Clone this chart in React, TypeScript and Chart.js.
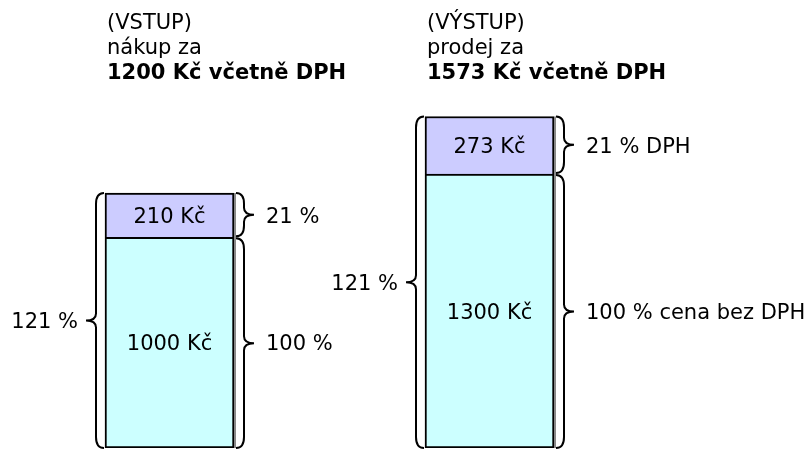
import React, { useEffect, useRef } from "react";
import { Chart, registerables } from "chart.js";

Chart.register(...registerables);

const categories = ["VSTUP", "VÝSTUP"];
const basePrice = [1000, 1300];
const vat = [210, 273];
const titleLine1 = ["(VSTUP)", "(VÝSTUP)"];
const titleLine2 = ["nákup za", "prodej za"];
const titleLine3 = ["1200 Kč včetně DPH", "1573 Kč včetně DPH"];
const totalLabels = ["121 %", "121 %"];
const vatLabels = ["21 %", "21 % DPH"];
const baseLabels = ["100 %", "100 % cena bez DPH"];

const FONT = '"DejaVu Sans", sans-serif';
const FS = 21;

function brace(
  ctx: CanvasRenderingContext2D,
  xEnd: number,
  dir: number,
  y1: number,
  y2: number
) {
  const xSpine = xEnd + dir * 8;
  const xTip = xEnd + dir * 18;
  const ym = (y1 + y2) / 2;
  const r = Math.min(11, (y2 - y1) / 4);
  const rt = Math.min(7, (y2 - y1) / 5);
  ctx.beginPath();
  ctx.moveTo(xEnd, y1);
  ctx.quadraticCurveTo(xSpine, y1, xSpine, y1 + r);
  ctx.lineTo(xSpine, ym - rt);
  ctx.quadraticCurveTo(xSpine, ym, xTip, ym);
  ctx.quadraticCurveTo(xSpine, ym, xSpine, ym + rt);
  ctx.lineTo(xSpine, y2 - r);
  ctx.quadraticCurveTo(xSpine, y2, xEnd, y2);
  ctx.stroke();
}

const annotatePlugin = {
  id: "annotate",
  afterDatasetsDraw(chart: any) {
    const ctx: CanvasRenderingContext2D = chart.ctx;
    const m0 = chart.getDatasetMeta(0).data;
    const m1 = chart.getDatasetMeta(1).data;
    ctx.save();
    ctx.fillStyle = "#000";
    ctx.strokeStyle = "#000";
    ctx.lineWidth = 2;
    for (let i = 0; i < categories.length; i++) {
      const b0 = m0[i];
      const b1 = m1[i];
      const left = b0.x - b0.width / 2;
      const right = b0.x + b0.width / 2;
      const yBottom = b0.base;
      const yMid = b0.y;
      const yTop = b1.y;
      // gray edge strip
      ctx.fillStyle = "#888";
      ctx.fillRect(right, yTop, 2, yBottom - yTop);
      ctx.fillStyle = "#000";
      // titles
      ctx.textAlign = "left";
      ctx.textBaseline = "alphabetic";
      ctx.font = `${FS}px ${FONT}`;
      ctx.fillText(titleLine1[i], left + 2, 29);
      ctx.fillText(titleLine2[i], left + 2, 54);
      ctx.font = `bold ${FS}px ${FONT}`;
      ctx.fillText(titleLine3[i], left + 2, 79);
      // values inside bars
      ctx.font = `${FS}px ${FONT}`;
      ctx.textAlign = "center";
      ctx.fillText(`${vat[i]} Kč`, b0.x, (yTop + yMid) / 2 + 7.5);
      ctx.fillText(`${basePrice[i]} Kč`, b0.x, (yMid + yBottom) / 2 + 7.5);
      // braces
      brace(ctx, left - 1, -1, yTop, yBottom);
      brace(ctx, right + 2, 1, yTop, yMid - 1);
      brace(ctx, right + 2, 1, yMid + 1, yBottom);
      // brace labels
      ctx.textAlign = "right";
      ctx.fillText(totalLabels[i], left - 27, (yTop + yBottom) / 2 + 7.5);
      ctx.textAlign = "left";
      ctx.fillText(vatLabels[i], right + 32, (yTop + yMid) / 2 + 7.5);
      ctx.fillText(baseLabels[i], right + 32, (yMid + yBottom) / 2 + 7.5);
    }
    ctx.restore();
  },
};

export default function App() {
  const ref = useRef<HTMLCanvasElement | null>(null);
  useEffect(() => {
    if (!ref.current) return;
    const chart = new Chart(ref.current, {
      type: "bar",
      data: {
        labels: categories,
        datasets: [
          {
            label: "cena bez DPH",
            data: basePrice,
            backgroundColor: "#ccffff",
            borderColor: "#000",
            borderWidth: 2,
            borderSkipped: false,
            barThickness: 129,
          },
          {
            label: "DPH",
            data: vat,
            backgroundColor: "#ccccff",
            borderColor: "#000",
            borderWidth: 2,
            barThickness: 129,
          },
        ],
      },
      options: {
        responsive: false,
        animation: false,
        layout: { padding: { left: 9.5, right: 159.5, top: 0, bottom: 1 } },
        plugins: {
          legend: { display: false },
          tooltip: { enabled: false },
          title: { display: false },
        },
        scales: {
          x: { stacked: true, display: false, grid: { display: false } },
          y: {
            stacked: true,
            display: false,
            min: 0,
            max: 2126,
            grid: { display: false },
          },
        },
      },
      plugins: [annotatePlugin],
    });
    return () => chart.destroy();
  }, []);
  return (
    <div style={{ position: "absolute", left: 0, top: 0, width: 809, height: 449, background: "#fff" }}>
      <canvas ref={ref} width={809} height={449} style={{ display: "block" }} />
    </div>
  );
}
